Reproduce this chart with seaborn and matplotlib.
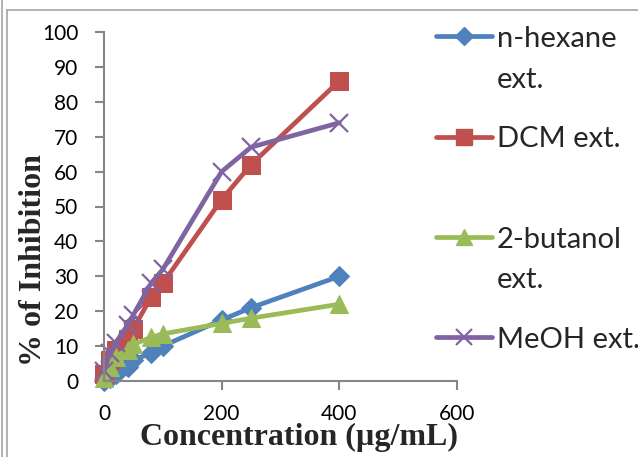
import matplotlib
matplotlib.use("Agg")
import matplotlib.pyplot as plt
from matplotlib.lines import Line2D
import seaborn as sns
import numpy as np

# ---- data ----
concentration = [0, 10, 20, 40, 50, 80, 100, 200, 250, 400]
n_hexane = [0, 1, 2, 4, 6, 8, 10, 17.5, 21, 30]
dcm = [2, 6, 9, 12, 15, 24, 28, 52, 62, 86]
butanol = [1, 4, 7, 9, 10.5, 12.5, 13.5, 16.5, 18, 22]
meoh = [3, 8, 11, 16, 19, 28, 32, 60, 67, 74]
labels = ["n-hexane\next.", "DCM ext.\n ", "2-butanol\next.", "MeOH ext."]
x_ticks = [0, 200, 400, 600]
y_ticks = [0, 10, 20, 30, 40, 50, 60, 70, 80, 90, 100]

sns.set_style("white")
plt.rcParams['font.family'] = ['Lato', 'DejaVu Sans']

fig = plt.figure(figsize=(6.38, 4.57), dpi=100)
ax = fig.add_axes([104/638, 1-381/457, (457-104)/638, (381-32)/457])

series = [
    (n_hexane, "#4F81BD", "D", 10.5, dict()),
    (dcm, "#C0504D", "s", 13, dict()),
    (butanol, "#9BBB59", "^", 13.5, dict()),
    (meoh, "#8064A2", "x", 13, dict(markeredgewidth=1.6)),
]
for (vals, col, mk, ms, extra), lab in zip(series, labels):
    sns.lineplot(x=concentration, y=vals, ax=ax, color=col, marker=mk,
                 markersize=ms, linewidth=3.4, markeredgecolor=col,
                 markerfacecolor=col, sort=False, label=lab, legend=False,
                 **extra)

ax.set_xlim(0, 600)
ax.set_ylim(0, 100)
ax.set_xticks(x_ticks)
ax.set_yticks(y_ticks)
ax.set_xticklabels([str(t) for t in x_ticks])
ax.set_yticklabels([str(t) for t in y_ticks])

spine_col = "#868686"
for s in ["top", "right"]:
    ax.spines[s].set_visible(False)
for s in ["left", "bottom"]:
    ax.spines[s].set_color(spine_col)
    ax.spines[s].set_linewidth(1.5)
ax.tick_params(axis="both", direction="out", length=6.5, width=1.5,
               color=spine_col, labelsize=15, labelcolor="black")
ax.tick_params(axis="x", pad=10, bottom=True)
ax.tick_params(axis="y", pad=12, left=True)
for ln in ax.lines:
    ln.set_clip_on(False)

ax.set_xlabel("Concentration (µg/mL)", fontsize=23, fontweight="bold",
              family=["Liberation Serif", "DejaVu Serif"])
ax.set_ylabel("% of Inhibition", fontsize=23, fontweight="bold",
              family=["Liberation Serif", "DejaVu Serif"])
ax.xaxis.set_label_coords(0.552, -0.121)
ax.yaxis.set_label_coords(-0.158, 0.347)

handles = [Line2D([], [], color=c, marker=m, markersize=ms * 0.85, linewidth=3.4,
                  markeredgecolor=c, markerfacecolor=c,
                  markeredgewidth=(1.6 if m == "x" else 1.0))
           for (_, c, m, ms, _) in series]
leg = fig.legend(handles, labels, loc="upper left",
                 bbox_to_anchor=(410/638, 1.0), frameon=False,
                 fontsize=21, handlelength=1.9, handletextpad=0.17,
                 labelspacing=1.15)
for t in leg.get_texts():
    t.set_linespacing(1.7)
try:
    for col in leg._legend_handle_box.get_children():
        for hp in col.get_children():
            hp.align = "top"
except Exception:
    pass

# outer frame lines (as in the source image)
frame_col = "#a6a6a6"
fig.add_artist(Line2D([2.5/638, 2.5/638], [0, 1], transform=fig.transFigure,
                      color=frame_col, linewidth=1.2))
fig.add_artist(Line2D([7/638, 7/638], [0, 1 - 10/457], transform=fig.transFigure,
                      color=frame_col, linewidth=1.2))
fig.add_artist(Line2D([7/638, 1], [1 - 10/457, 1 - 10/457], transform=fig.transFigure,
                      color=frame_col, linewidth=1.2))

fig.savefig("out.png", dpi=100)
